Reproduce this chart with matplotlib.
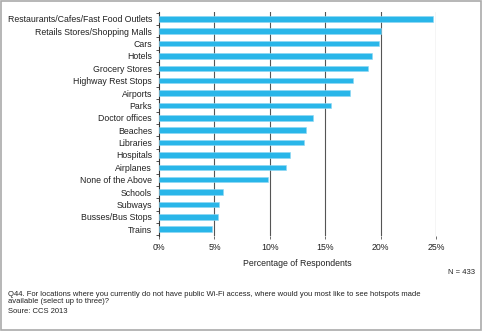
import numpy as np
import matplotlib.pyplot as plt
from matplotlib.patches import Rectangle

plt.rcParams['font.family'] = ['Liberation Sans', 'DejaVu Sans']

locations = [
    'Restaurants/Cafes/Fast Food Outlets', 'Retails Stores/Shopping Malls', 'Cars',
    'Hotels', 'Grocery Stores', 'Highway Rest Stops', 'Airports', 'Parks',
    'Doctor offices', 'Beaches', 'Libraries', 'Hospitals', 'Airplanes',
    'None of the Above', 'Schools', 'Subways', 'Busses/Bus Stops', 'Trains',
]
pct = [24.7, 20.0, 19.9, 19.2, 18.9, 17.5, 17.2, 15.5, 13.9, 13.3, 13.1,
       11.8, 11.5, 9.8, 5.8, 5.45, 5.3, 4.8]
x_ticks = [0, 5, 10, 15, 20, 25]
x_labels = ['0%', '5%', '10%', '15%', '20%', '25%']

fig = plt.figure(figsize=(4.82, 3.31), dpi=100)
ax = fig.add_axes([159 / 482, 95 / 331, 277 / 482, 224 / 331])

y = np.arange(len(locations))
ax.barh(y, pct, height=0.45, color='#29b6e9', edgecolor='#8fd8f3',
        linewidth=0.4, zorder=3)

# vertical reference lines at every 5%
for v in x_ticks[1:]:
    ax.axvline(v, color='#555555', linewidth=0.8, zorder=1)

ax.set_xlim(0, 25)
ax.set_ylim(len(locations) - 0.45, -0.55)
ax.set_yticks(y)
ax.set_yticklabels(locations, fontsize=6.3, color='#222222')
ax.set_yticks(np.arange(-0.5, len(locations)), minor=True)
ax.tick_params(axis='y', which='major', length=0, pad=5)
ax.tick_params(axis='y', which='minor', length=2.5, width=0.6, color='#333333')
ax.set_xticks(x_ticks)
ax.set_xticklabels(x_labels, fontsize=6.3, color='#222222')
ax.tick_params(axis='x', length=2, width=0.6, color='#555555', pad=3)
ax.set_xlabel('Percentage of Respondents', fontsize=6.3, color='#222222', labelpad=5)

for s in ['top', 'right', 'bottom']:
    ax.spines[s].set_visible(False)
ax.spines['left'].set_color('#333333')
ax.spines['left'].set_linewidth(0.8)

fig.text(475 / 482, 1 - 273 / 331, 'N = 433', fontsize=5.5, ha='right', va='center', color='#222222')
fig.text(8 / 482, 1 - 294.5 / 331,
         'Q44. For locations where you currently do not have public Wi-Fi access, '
         'where would you most like to see hotspots made',
         fontsize=5.5, ha='left', va='center', color='#222222')
fig.text(8 / 482, 1 - 301.5 / 331, 'available (select up to three)?',
         fontsize=5.5, ha='left', va='center', color='#222222')
fig.text(8 / 482, 1 - 311.5 / 331, 'Soure: CCS 2013',
         fontsize=5.5, ha='left', va='center', color='#222222')

# outer frame
fig.patches.append(Rectangle((0.002, 0.003), 0.996, 0.994, transform=fig.transFigure,
                             fill=False, edgecolor='#aaaaaa', linewidth=1.2))

fig.savefig('out.png', dpi=100)
